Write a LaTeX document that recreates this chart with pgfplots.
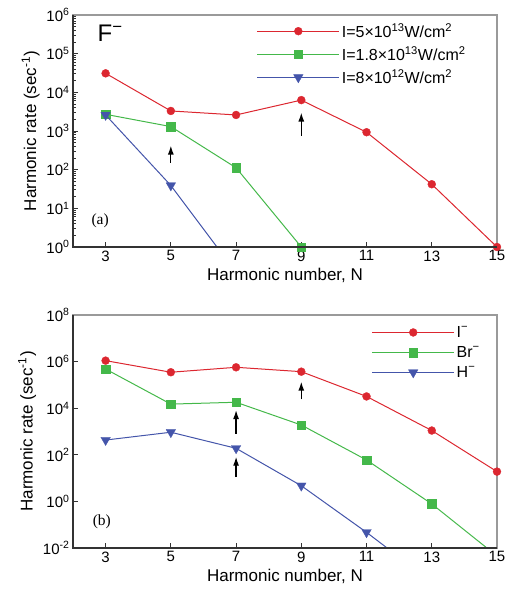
\documentclass[border=0pt]{standalone}
\usepackage{pgfplots}
\pgfplotsset{compat=1.18}
\usetikzlibrary{arrows.meta}
\usepackage{fontspec}
\setmainfont{Liberation Sans}
\newfontfamily\serif{Liberation Serif}
\definecolor{cred}{HTML}{DC2730}
\definecolor{cgreen}{HTML}{44B84A}
\definecolor{cblue}{HTML}{4455AA}
\definecolor{frameg}{HTML}{9A9A9A}
\definecolor{framed}{HTML}{333333}

\pgfplotsset{every axis/.append style={
 scale only axis,width=424pt,
 xmin=2,xmax=15,xtick={3,5,7,9,11,13,15},xticklabels={3,5,7,9,11,13,15},
 clip mode=individual,
 axis line style={frameg,line width=1.6pt},
 xtick pos=bottom,ytick pos=left,tick align=inside,
 major tick length=5pt,minor tick length=3pt,
 tick style={framed,line width=0.9pt},
 tick label style={font=\fontsize{15}{18}\selectfont},
 label style={font=\fontsize{17}{20}\selectfont},
 xlabel={Harmonic number, N},
 ylabel={Harmonic rate (sec\textsuperscript{-1})},
 legend style={draw=none,fill=none,font=\fontsize{16}{19}\selectfont,row sep=3.5pt},
 legend cell align=left,
 every axis plot/.append style={line width=1pt}}}
\pgfplotsset{legend image code/.code={\draw[#1,mark repeat=2,mark phase=2] plot coordinates {(0pt,0pt) (41pt,0pt) (82pt,0pt)};}}
\pgfplotsset{
 rstyle/.style={color=cred,mark=*,mark size=4pt,mark options={line width=0.3pt}},
 gstyle/.style={color=cgreen,mark=square*,mark size=4.3pt,mark options={line width=0.3pt}},
 bstyle/.style={color=cblue,mark=triangle*,mark size=5.5pt,mark options={rotate=180,line width=0.3pt}},
}

\begin{document}
\begin{tikzpicture}
\path[use as bounding box] (-73pt,-351pt) rectangle (432pt,247pt);

\begin{axis}[ymode=log,height=232pt,at={(0pt,0pt)},anchor=south west,
 ymin=1,ymax=1e6,ytick={1,10,100,1000,10000,100000,1000000},
 yticklabels={10\textsuperscript{0},10\textsuperscript{1},10\textsuperscript{2},10\textsuperscript{3},10\textsuperscript{4},10\textsuperscript{5},10\textsuperscript{6}},
 legend style={at={(rel axis cs:0.426,0.982)},anchor=north west}]
\addplot[rstyle] coordinates {(3,31000) (5,3300) (7,2600) (9,6300) (11,930) (13,42) (15,1)};
\addlegendentry{I=5×10\textsuperscript{13}W/cm\textsuperscript{2}}
\addplot[gstyle] coordinates {(3,2700) (5,1300) (7,112) (9,1)};
\addlegendentry{I=1.8×10\textsuperscript{13}W/cm\textsuperscript{2}}
\addplot[bstyle] coordinates {(3,2600) (5,39) (7,0.22)};
\addlegendentry{I=8×10\textsuperscript{12}W/cm\textsuperscript{2}}
\draw[-{Latex[length=9pt,width=6pt]},line width=1.3pt] (axis cs:5,150) -- (axis cs:5,420);
\draw[-{Latex[length=9pt,width=6pt]},line width=1.3pt] (axis cs:9,760) -- (axis cs:9,3000);
\node[anchor=west,font=\fontsize{24}{28}\selectfont] at (rel axis cs:0.05,0.92) {F\textsuperscript{−}};
\node[font=\serif\fontsize{15.5}{18}\selectfont] at (rel axis cs:0.064,0.112) {(a)};
\draw[framed,line width=1.6pt] (rel axis cs:0,1) -- (rel axis cs:0,0) -- (rel axis cs:1,0);
\end{axis}

\begin{axis}[ymode=log,height=233pt,at={(0pt,-301pt)},anchor=south west,
 ymin=1e-2,ymax=1e8,ytick={0.01,1,100,10000,1000000,100000000},yminorticks=false,
 yticklabels={10\textsuperscript{-2},10\textsuperscript{0},10\textsuperscript{2},10\textsuperscript{4},10\textsuperscript{6},10\textsuperscript{8}},
 legend style={at={(rel axis cs:0.697,0.97)},anchor=north west}]
\addplot[rstyle] coordinates {(3,1.1e6) (5,3.5e5) (7,5.7e5) (9,3.7e5) (11,3.2e4) (13,1100) (15,19)};
\addlegendentry{I\textsuperscript{−}}
\addplot[gstyle] coordinates {(3,4.8e5) (5,1.5e4) (7,1.8e4) (9,1900) (11,60) (13,0.78) (15,0.0045)};
\addlegendentry{Br\textsuperscript{−}}
\addplot[bstyle] coordinates {(3,430) (5,930) (7,190) (9,4.7) (11,0.047) (13,0.00035)};
\addlegendentry{H\textsuperscript{−}}
\draw[-{Latex[length=9pt,width=6pt]},line width=1.3pt] (axis cs:7,800) -- (axis cs:7,8300);
\draw[-{Latex[length=9pt,width=6pt]},line width=1.3pt] (axis cs:7,11) -- (axis cs:7,83);
\draw[-{Latex[length=9pt,width=6pt]},line width=1.3pt] (axis cs:9,24000) -- (axis cs:9,138000);
\node[font=\serif\fontsize{15.5}{18}\selectfont] at (rel axis cs:0.068,0.113) {(b)};
\draw[framed,line width=1.6pt] (rel axis cs:0,1) -- (rel axis cs:0,0) -- (rel axis cs:1,0);
\end{axis}
\end{tikzpicture}
\end{document}
